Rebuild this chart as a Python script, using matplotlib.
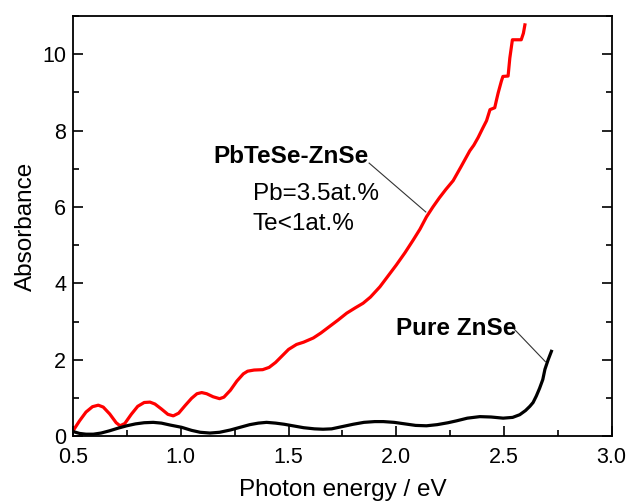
import matplotlib
matplotlib.use("Agg")
import matplotlib.pyplot as plt
from matplotlib.ticker import MultipleLocator

plt.rcParams['font.family'] = ['Liberation Sans', 'DejaVu Sans']

red_x = [0.50, 0.53, 0.56, 0.59, 0.617, 0.64, 0.67, 0.70, 0.718, 0.74, 0.77, 0.80, 0.83, 0.857,
         0.88, 0.91, 0.94, 0.965, 0.99, 1.02, 1.05, 1.075, 1.097, 1.12, 1.15, 1.18, 1.20, 1.23,
         1.26, 1.29, 1.31, 1.34, 1.38, 1.41, 1.44, 1.47, 1.50, 1.537, 1.57, 1.615, 1.65, 1.69,
         1.73, 1.77, 1.81, 1.846, 1.88, 1.924, 1.96, 2.00, 2.04, 2.078, 2.11, 2.14, 2.17, 2.20,
         2.23, 2.264, 2.30, 2.341, 2.36, 2.38, 2.40, 2.419, 2.435, 2.457, 2.465, 2.473, 2.488,
         2.495, 2.519, 2.527, 2.539, 2.58, 2.59, 2.597]
red_y = [0.14, 0.40, 0.63, 0.77, 0.81, 0.76, 0.58, 0.35, 0.27, 0.33, 0.57, 0.78, 0.88, 0.89,
         0.84, 0.71, 0.57, 0.53, 0.60, 0.80, 0.99, 1.11, 1.14, 1.11, 1.03, 0.98, 1.02, 1.20,
         1.44, 1.63, 1.70, 1.73, 1.74, 1.80, 1.93, 2.10, 2.27, 2.40, 2.46, 2.57, 2.70, 2.87,
         3.04, 3.22, 3.36, 3.48, 3.64, 3.91, 4.18, 4.48, 4.80, 5.13, 5.42, 5.74, 6.00, 6.24,
         6.46, 6.69, 7.05, 7.47, 7.62, 7.82, 8.05, 8.26, 8.55, 8.60, 8.80, 8.99, 9.30,
         9.42, 9.43, 9.90, 10.38, 10.38, 10.55, 10.77]

black_x = [0.50, 0.53, 0.56, 0.594, 0.63, 0.67, 0.71, 0.749, 0.79, 0.83, 0.872, 0.91, 0.95,
           1.004, 1.05, 1.09, 1.135, 1.18, 1.23, 1.275, 1.32, 1.36, 1.398, 1.44, 1.48, 1.52,
           1.57, 1.62, 1.66, 1.70, 1.75, 1.80, 1.85, 1.90, 1.94, 1.99, 2.04, 2.09, 2.14, 2.19,
           2.24, 2.28, 2.33, 2.388, 2.44, 2.496, 2.54, 2.573, 2.60, 2.62, 2.635, 2.65, 2.665,
           2.68, 2.69, 2.705, 2.72]
black_y = [0.12, 0.07, 0.05, 0.05, 0.08, 0.14, 0.21, 0.27, 0.32, 0.35, 0.36, 0.34, 0.29,
           0.23, 0.15, 0.10, 0.08, 0.10, 0.16, 0.23, 0.30, 0.34, 0.36, 0.34, 0.31, 0.27,
           0.22, 0.19, 0.18, 0.19, 0.25, 0.31, 0.36, 0.38, 0.38, 0.36, 0.32, 0.28, 0.27, 0.30,
           0.35, 0.40, 0.47, 0.51, 0.50, 0.47, 0.49, 0.56, 0.67, 0.78, 0.88, 1.05, 1.25,
           1.48, 1.75, 2.00, 2.22]

x_ticks = [0.5, 1.0, 1.5, 2.0, 2.5, 3.0]
y_ticks = [0, 2, 4, 6, 8, 10]

fig = plt.figure(figsize=(6.3, 5.03), dpi=100)
ax = fig.add_axes([0.116, 0.133, 0.855, 0.835])

ax.plot(red_x, red_y, color='#ff0000', lw=2.3, solid_joinstyle='round')
ax.plot(black_x, black_y, color='black', lw=2.3, solid_joinstyle='round')

ax.set_xlim(0.5, 3.0)
ax.set_ylim(0, 11)
ax.set_xticks(x_ticks)
ax.set_xticklabels([f"{v:.1f}" for v in x_ticks])
ax.set_yticks(y_ticks)
ax.xaxis.set_minor_locator(MultipleLocator(0.25))
ax.yaxis.set_minor_locator(MultipleLocator(1))

ax.tick_params(which='both', direction='in', top=False, right=True, labelsize=15.5, width=1.2)
ax.tick_params(axis='x', pad=8)
ax.tick_params(axis='y', pad=5)
ax.tick_params(which='major', length=7)
ax.tick_params(which='minor', length=4)
for s in ax.spines.values():
    s.set_linewidth(1.3)

ax.set_xlabel('Photon energy / eV', fontsize=17.5, labelpad=8)
ax.set_ylabel('Absorbance', fontsize=17.5, labelpad=4)

ax.text(1.149, 7.16, 'PbTeSe-ZnSe', fontsize=17.5, fontweight='bold', ha='left', va='baseline')
ax.text(1.333, 6.19, 'Pb=3.5at.%', fontsize=17.5, ha='left', va='baseline')
ax.text(1.333, 5.39, 'Te<1at.%', fontsize=17.5, ha='left', va='baseline')
ax.plot([1.874, 2.137], [7.15, 5.87], color='#333333', lw=0.8)

ax.text(1.998, 2.66, 'Pure ZnSe', fontsize=17.5, fontweight='bold', ha='left', va='baseline')
ax.plot([2.541, 2.692], [2.84, 1.95], color='#333333', lw=0.8)

fig.savefig('out.png', dpi=100)
